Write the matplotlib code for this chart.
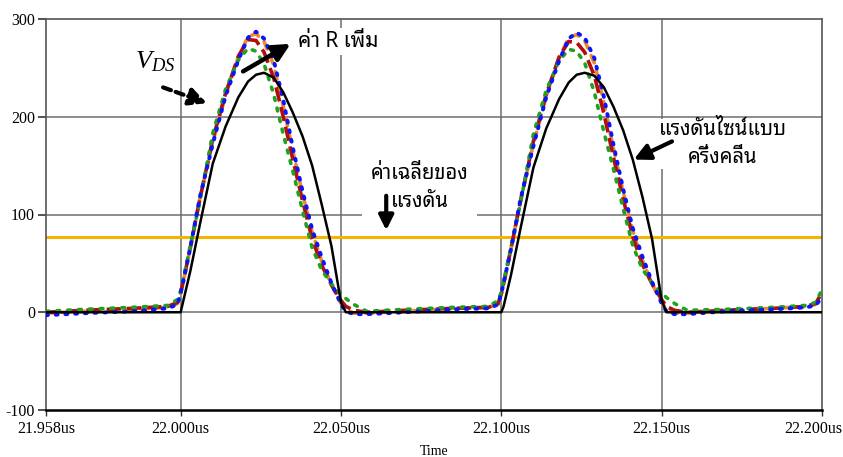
import matplotlib
matplotlib.use("Agg")
import matplotlib.pyplot as plt
import matplotlib.transforms as mtransforms
from matplotlib import font_manager as fm
from matplotlib.ft2font import FT2Font

# ---- waveform samples (time in us, voltage in V) ----
TIME_US = [
    21.958, 21.970, 21.985, 21.996, 21.999, 22.000, 22.0007, 22.003, 22.006, 22.010,
    22.014, 22.018, 22.021, 22.0235, 22.026, 22.029, 22.032, 22.035, 22.038, 22.041,
    22.044, 22.047, 22.050, 22.0515, 22.054, 22.058, 22.070, 22.085,
    22.096, 22.099, 22.100, 22.1007, 22.103, 22.106, 22.110, 22.114, 22.118, 22.121,
    22.1235, 22.126, 22.129, 22.132, 22.135, 22.138, 22.141, 22.144, 22.147, 22.150,
    22.1515, 22.154, 22.158, 22.170, 22.185, 22.195, 22.198, 22.200,
]

V_SINE = [
    0, 0, 0, 0, 0, 0, 10, 42, 90, 152, 190, 220, 236, 243, 245, 240, 225, 204, 180, 150,
    110, 68, 10, 0, 0, 0, 0, 0,
    0, 0, 0, 6, 38, 86, 148, 188, 218, 235, 243, 245, 242, 230, 210, 186, 156, 118, 75, 12,
    0, 0, 0, 0, 0, 0, 0, 0,
]
V_R1 = [
    1, 3, 5, 7, 13, 22, 32, 68, 114, 183, 228, 258, 270, 267, 254, 223, 182, 144, 104, 66,
    43, 29, 19, 14, 8, 1, 3, 5,
    6, 12, 21, 31, 67, 112, 182, 227, 257, 269, 267, 255, 225, 184, 146, 106, 68, 44, 30, 20,
    15, 9, 2, 3, 5, 7, 10, 23,
]
V_R2 = [
    0, 2, 4, 6, 10, 20, 30, 66, 116, 177, 224, 262, 279, 278, 266, 240, 200, 156, 114, 75,
    48, 28, 12, 6, 2, 0, 2, 4,
    5, 9, 19, 29, 65, 114, 175, 223, 261, 277, 276, 266, 242, 203, 158, 116, 77, 49, 29, 13,
    6, 2, 0, 2, 4, 6, 9, 20,
]
V_R3 = [
    -1, 1, 3, 5, 9, 20, 30, 66, 117, 174, 222, 261, 282, 285, 277, 253, 211, 165, 121, 82,
    52, 28, 9, 3, -1, -1, 1, 4,
    5, 8, 19, 29, 65, 115, 172, 221, 260, 281, 284, 278, 255, 214, 167, 123, 83, 53, 29, 10,
    3, -1, -1, 2, 4, 6, 8, 18,
]
V_R4 = [
    -3, -1, 1, 4, 8, 20, 30, 66, 118, 172, 221, 258, 281, 287, 280, 258, 217, 168, 124, 85,
    56, 30, 8, 1, -2, -2, 0, 3,
    4, 8, 20, 30, 64, 116, 170, 220, 257, 280, 286, 281, 260, 220, 171, 126, 86, 57, 31, 9,
    1, -2, -2, 1, 3, 5, 7, 15,
]
V_AVG = 77

X_TICKS = [21.958, 22.000, 22.050, 22.100, 22.150, 22.200]
X_LABELS = ["21.958us", "22.000us", "22.050us", "22.100us", "22.150us", "22.200us"]
Y_TICKS = [-100, 0, 100, 200, 300]
Y_LABELS = ["-100", "0", "100", "200", "300"]


def thai_family():
    preferred = ["Noto Sans Thai Looped", "Loma", "Garuda", "Tlwg Typist",
                 "Noto Sans Thai", "Noto Sans Thai UI", "Noto Serif Thai",
                 "Norasi", "Tlwg Typo", "Kinnari", "Sawasdee", "Umpush"]
    found = []
    for f in fm.fontManager.ttflist:
        try:
            ft = FT2Font(f.fname)
            if ft.get_char_index(0x0E04) and ft.get_char_index(0x0E48):
                found.append(f.name)
        except Exception:
            pass
    for p in preferred:
        if p in found:
            return p
    return found[0] if found else "DejaVu Sans"


THAI = [thai_family(), "DejaVu Sans"]
SERIF = "Liberation Serif"

plt.rcParams["mathtext.fontset"] = "custom"
plt.rcParams["mathtext.rm"] = SERIF
plt.rcParams["mathtext.it"] = SERIF + ":italic"

fig = plt.figure(figsize=(8.43, 4.57), dpi=100)
ax = fig.add_axes([46 / 843, 47 / 457, 776 / 843, 391 / 457])

ax.set_xlim(21.958, 22.200)
ax.set_ylim(-100, 300)

grid_c = "#6e6e6e"
for x in X_TICKS[1:-1]:
    ax.axvline(x, color=grid_c, lw=1.1, zorder=1)
for y in Y_TICKS[1:-1]:
    ax.axhline(y, color=grid_c, lw=1.1, zorder=1)

# average voltage
ax.axhline(V_AVG, color="#f5b400", lw=2.2, zorder=2)

ax.plot(TIME_US, V_R3, color="#f08a24", lw=2.6, ls=(0, (2.2, 2.2)),
        dash_capstyle="round", zorder=3)
ax.plot(TIME_US, V_R2, color="#b30d0d", lw=2.6, ls=(0, (4.0, 1.6)),
        dash_capstyle="butt", zorder=4)
ax.plot(TIME_US, V_R1, color="#1fa31f", lw=2.6, ls=(0, (0.8, 2.2)),
        dash_capstyle="round", zorder=5)
ax.plot(TIME_US, V_R4, color="#0a14ff", lw=2.8, ls=(0, (0.5, 2.0)),
        dash_capstyle="round", zorder=6)
ax.plot(TIME_US, V_SINE, color="black", lw=1.8, zorder=7)

ax.set_xticks(X_TICKS)
ax.set_xticklabels(X_LABELS, fontfamily=SERIF, fontsize=11.5)
ax.set_yticks(Y_TICKS)
ax.set_yticklabels(Y_LABELS, fontfamily=SERIF, fontsize=11.5)
ax.tick_params(axis="y", direction="out", length=6, width=1.2, color="#333333", pad=2)
ax.tick_params(axis="x", direction="out", length=4, width=1.0, color="#333333", pad=4)
ax.set_xlabel("Time", fontfamily=SERIF, fontsize=10, labelpad=6)

# keep the last time label inside the canvas
last = ax.get_xticklabels()[-1]
last.set_horizontalalignment("right")
last.set_transform(last.get_transform()
                   + mtransforms.ScaledTranslation(20 / 100, 0, fig.dpi_scale_trans))

for side in ["left", "top", "right"]:
    ax.spines[side].set_color("#555555")
    ax.spines[side].set_linewidth(1.2)
ax.spines["bottom"].set_color("black")
ax.spines["bottom"].set_linewidth(1.8)

# annotations
ax.text(21.9922, 257, r"$V_{DS}$", fontsize=19, ha="center", va="center", zorder=9)
ax.annotate("", xy=(22.0090, 213), xytext=(21.9937, 231),
            arrowprops=dict(arrowstyle="-|>", lw=3, ls=(0, (2, 1.2)),
                            mutation_scale=26, color="black"), zorder=9)

ax.annotate("", xy=(22.0350, 276), xytext=(22.0187, 245),
            arrowprops=dict(arrowstyle="-|>", lw=3.2, mutation_scale=26,
                            color="black"), zorder=9)
ax.text(22.0365, 277, "ค่า R เพิ่ม", family=THAI, fontsize=15, style="italic",
        ha="left", va="center", zorder=9,
        bbox=dict(facecolor="white", edgecolor="none", pad=2))

ax.text(22.1690, 172, "แรงดันไซน์แบบ\nครึ่งคลื่น", family=THAI, fontsize=14.5,
        ha="center", va="center", linespacing=1.5, zorder=9,
        bbox=dict(facecolor="white", edgecolor="none", pad=1))
ax.annotate("", xy=(22.1405, 155), xytext=(22.1540, 176),
            arrowprops=dict(arrowstyle="-|>", lw=3, mutation_scale=24,
                            color="black"), zorder=9)

ax.text(22.0745, 127, "ค่าเฉลี่ยของ\nแรงดัน", family=THAI, fontsize=14.5,
        style="italic", ha="center", va="center", linespacing=1.5, zorder=9,
        bbox=dict(facecolor="white", edgecolor="none", pad=6))
ax.annotate("", xy=(22.0641, 81), xytext=(22.0641, 122),
            arrowprops=dict(arrowstyle="-|>", lw=3, mutation_scale=22,
                            color="black"), zorder=10)

fig.savefig("out.png", dpi=100, facecolor="white")
